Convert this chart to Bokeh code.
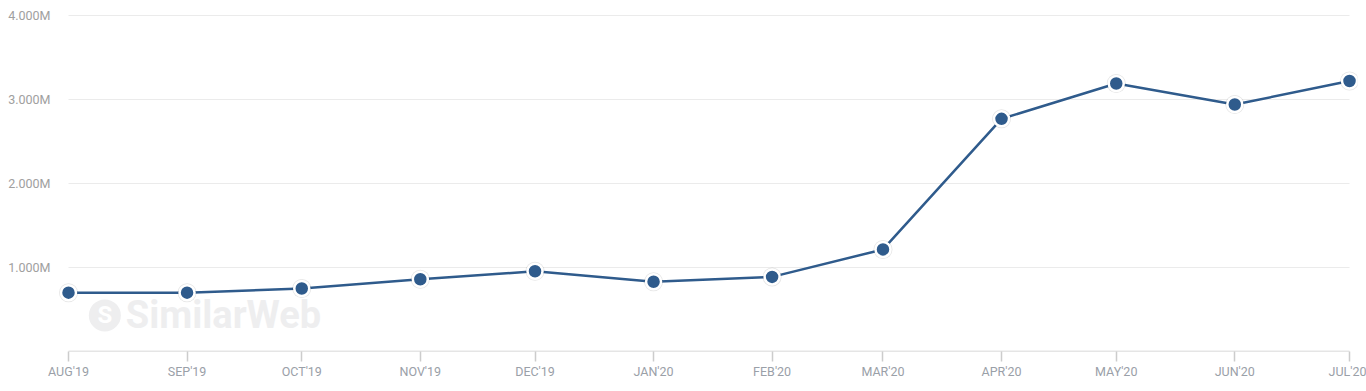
import pandas as pd
from bokeh.plotting import figure
from bokeh.models import FixedTicker, Range1d, Label
from bokeh.embed import file_html
from bokeh.resources import INLINE

months = ["2019-08-01", "2019-09-01", "2019-10-01", "2019-11-01", "2019-12-01", "2020-01-01",
          "2020-02-01", "2020-03-01", "2020-04-01", "2020-05-01", "2020-06-01", "2020-07-01"]
month_labels = ["AUG'19", "SEP'19", "OCT'19", "NOV'19", "DEC'19", "JAN'20",
                "FEB'20", "MAR'20", "APR'20", "MAY'20", "JUN'20", "JUL'20"]
visits = [0.70e6, 0.70e6, 0.75e6, 0.86e6, 0.955e6, 0.83e6,
          0.888e6, 1.215e6, 2.77e6, 3.19e6, 2.94e6, 3.22e6]
y_ticks = [1e6, 2e6, 3e6, 4e6]
y_labels = ["1.000M", "2.000M", "3.000M", "4.000M"]

dates = pd.to_datetime(months)
x = [(d - dates[0]).days for d in dates]

p = figure(width=1366, height=391, output_backend="svg", toolbar_location=None,
           x_range=Range1d(-3.14, x[-1] + 2.09), y_range=Range1d(0, 4.0476e6),
           min_border_left=56, min_border_right=9, min_border_top=11, min_border_bottom=40)
p.outline_line_color = None
p.background_fill_color = "white"
p.xgrid.visible = False
p.ygrid.visible = False

# gridlines spanning first to last month
p.segment(x0=[x[0]] * len(y_ticks), x1=[x[-1]] * len(y_ticks), y0=y_ticks, y1=y_ticks,
          line_color="#ebebeb", line_width=1)
p.segment(x0=[x[0]], x1=[x[-1]], y0=[0], y1=[0], line_color="#cccccc", line_width=1.5)

# watermark
p.scatter(x=[9.5], y=[0.43e6], size=32, marker="circle", fill_color="#eeeeef", line_color=None)
p.add_layout(Label(x=9.5, y=0.43e6, text="S", text_color="white", text_font="Roboto",
                   text_font_style="bold", text_font_size="24px", text_align="center",
                   text_baseline="middle"))
p.add_layout(Label(x=15.0, y=0.43e6, text="SimilarWeb", text_color="#eeeeef",
                   text_font="Roboto", text_font_style="bold", text_font_size="38px",
                   text_baseline="middle"))

line_color = "#2f5b8c"
p.line(x, visits, line_color=line_color, line_width=2.5)
p.scatter(x, visits, size=19, marker="circle", fill_color="black", fill_alpha=0.10, line_color=None)
p.scatter(x, visits, size=15, marker="circle", fill_color=line_color,
          line_color="white", line_width=2.5)

# x axis
xa = p.xaxis[0]
xa.ticker = FixedTicker(ticks=x)
xa.major_label_overrides = {xi: lab for xi, lab in zip(x, month_labels)}
xa.axis_line_color = None
xa.major_tick_line_color = "#cccccc"
xa.major_tick_line_width = 1.5
xa.major_tick_out = 10
xa.major_tick_in = 0
xa.minor_tick_line_color = None
xa.major_label_standoff = 2
xa.major_label_text_font = "Roboto"
xa.major_label_text_font_size = "12.5px"
xa.major_label_text_color = "#9aa0a8"

# y axis
ya = p.yaxis[0]
ya.ticker = FixedTicker(ticks=y_ticks)
ya.major_label_overrides = {t: lab for t, lab in zip(y_ticks, y_labels)}
ya.axis_line_color = None
ya.major_tick_line_color = None
ya.minor_tick_line_color = None
ya.major_tick_out = 0
ya.major_label_standoff = 6
ya.major_label_text_font = "Roboto"
ya.major_label_text_font_size = "12.5px"
ya.major_label_text_color = "#a0a0a0"

open("out.html", "w").write(file_html(p, INLINE))
